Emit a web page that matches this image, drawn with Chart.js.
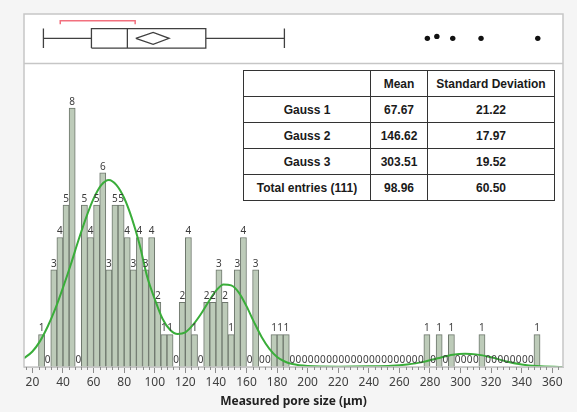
<!DOCTYPE html>
<html>
<head>
<meta charset="utf-8">
<script src="https://cdn.jsdelivr.net/npm/chart.js"></script>
<style>
  html, body { margin:0; padding:0; background:#f5f5f5; }
  #wrap { position:relative; width:577px; height:412px; }
  #stats { position:absolute; left:243px; top:70px; border-collapse:collapse; background:#fff;
           font:bold 12px "Liberation Sans", Arial, sans-serif; color:#1a1a1a; border:1.5px solid #222; }
  #stats td { border:1px solid #333; text-align:center; padding:0; height:25px; }
</style>
</head>
<body>
<div id="wrap">
  <canvas id="poreChart"></canvas>
  <table id="stats"><colgroup><col style="width:127px"><col style="width:57px"><col style="width:127px"></colgroup><tbody></tbody></table>
</div>
<script>
// histogram: bin centres (bin width 4) and counts
var binCenters = [26,30,34,38,42,46,50,54,58,62,66,70,74,78,82,86,90,94,98,102,106,110,114,118,122,126,130,134,138,142,146,150,154,158,162,166,170,174,178,182,186,
  190,194,198,202,206,210,214,218,222,226,230,234,238,242,246,250,254,258,262,266,270,274,278,282,286,290,294,298,302,306,310,314,318,322,326,330,334,338,342,346,350]
var counts = [1,0,3,4,5,8,0,5,4,5,6,3,5,5,4,3,4,3,4,2,1,1,0,2,4,1,0,2,2,3,2,1,3,4,0,3,0,0,1,1,1,
  0,0,0,0,0,0,0,0,0,0,0,0,0,0,0,0,0,0,0,0,0,0,1,0,1,0,1,0,0,0,0,1,0,0,0,0,0,0,0,0,1]

// fitted gaussian mixture curve
var curveX = [14.5,20,25,30,35,40,45,50,55,60,65,70,75,80,85,90,95,100,105,110,115,120,125,130,135,140,145,150,155,160,165,170,175,180,185,190,200,220,240,255,265,275,285,295,303,310,320,330,340,350,367]
var curveY = [0.27,0.48,0.8,1.25,1.8,2.45,3.15,3.9,4.6,5.2,5.62,5.78,5.62,5.22,4.6,3.8,2.8,2.1,1.5,1.15,1.02,1.07,1.3,1.62,2.0,2.35,2.55,2.52,2.3,1.88,1.38,0.92,0.56,0.31,0.17,0.09,0.03,0.01,0.02,0.04,0.08,0.15,0.27,0.38,0.41,0.39,0.3,0.17,0.08,0.03,0.0]

// box plot: whisker min, Q1, median, Q3, whisker max
var boxStats = [27.2, 58.6, 82.1, 133.4, 184.8]
var meanValue = 98.96
var meanCI = [87.6, 109.4]
var shortestHalf = [38.2, 87.2]
var outliers = [278.3, 284.5, 294.9, 313.4, 350.5]
var outlierJitter = [0.5, 0.54, 0.5, 0.5, 0.5]

// table
var rowNames = ['Gauss 1', 'Gauss 2', 'Gauss 3', 'Total entries (111)']
var means = ['67.67', '146.62', '303.51', '98.96']
var stdDevs = ['21.22', '17.97', '19.52', '60.50']

var tbody = document.querySelector('#stats tbody')
var html = '<tr><td></td><td>Mean</td><td>Standard Deviation</td></tr>'
for (var i = 0; i < rowNames.length; i++) {
  html += '<tr><td>' + rowNames[i] + '</td><td>' + means[i] + '</td><td>' + stdDevs[i] + '</td></tr>'
}
tbody.innerHTML = html

var font = '"Noto Sans", "Open Sans", sans-serif'
var mid = 0.5, boxH = 0.2, diaH = 0.123

var boxLines = [
  {x: boxStats[0], y: mid - boxH}, {x: boxStats[0], y: mid + boxH}, {x: boxStats[0], y: null},
  {x: boxStats[0], y: mid}, {x: boxStats[1], y: mid}, {x: boxStats[1], y: null},
  {x: boxStats[1], y: mid - boxH}, {x: boxStats[3], y: mid - boxH}, {x: boxStats[3], y: mid + boxH}, {x: boxStats[1], y: mid + boxH}, {x: boxStats[1], y: mid - boxH}, {x: boxStats[1], y: null},
  {x: boxStats[2], y: mid - boxH}, {x: boxStats[2], y: mid + boxH}, {x: boxStats[2], y: null},
  {x: boxStats[3], y: mid}, {x: boxStats[4], y: mid}, {x: boxStats[4], y: null},
  {x: boxStats[4], y: mid - boxH}, {x: boxStats[4], y: mid + boxH}
]
var diamond = [
  {x: meanCI[0], y: mid}, {x: meanValue, y: mid + diaH}, {x: meanCI[1], y: mid}, {x: meanValue, y: mid - diaH}, {x: meanCI[0], y: mid}
]
var bracket = [
  {x: shortestHalf[0], y: 0.79}, {x: shortestHalf[0], y: 0.862}, {x: shortestHalf[1], y: 0.862}, {x: shortestHalf[1], y: 0.79}
]

var framePlugin = {
  id: 'frame',
  beforeDraw: function(c) {
    var a = c.chartArea, g = c.ctx
    g.save()
    g.fillStyle = '#ffffff'
    g.fillRect(a.left, a.top, a.right - a.left, a.bottom - a.top)
    g.restore()
  },
  afterDraw: function(c) {
    var a = c.chartArea, g = c.ctx
    g.save()
    g.strokeStyle = '#c6c6c6'
    g.lineWidth = 1.5
    g.strokeRect(a.left, a.top, a.right - a.left, a.bottom - a.top)
    var sep = Math.round(c.scales.y.top) + 0.5
    g.beginPath(); g.moveTo(a.left, sep); g.lineTo(a.right, sep); g.stroke()
    // minor ticks every 4 units
    var xs = c.scales.x
    g.strokeStyle = '#8c8c8c'
    g.lineWidth = 1
    g.beginPath()
    for (var v = 16; v <= 364; v += 4) {
      if (v % 20 === 0) continue
      var px = Math.round(xs.getPixelForValue(v)) + 0.5
      g.moveTo(px, xs.top); g.lineTo(px, xs.top + 3)
    }
    g.stroke()
    g.restore()
  }
}

var labelPlugin = {
  id: 'barLabels',
  afterDatasetsDraw: function(c) {
    var meta = c.getDatasetMeta(1), g = c.ctx
    var base = c.scales.y.getPixelForValue(0)
    g.save()
    g.font = '10px ' + font
    g.fillStyle = '#3c3c3c'
    g.textAlign = 'center'
    g.textBaseline = 'bottom'
    meta.data.forEach(function(bar, i) {
      if (counts[i] > 0) g.fillText(counts[i], bar.x, bar.y - 1)
      else g.fillText('0', bar.x, base - 2)
    })
    g.restore()
  }
}

var chart = new Chart(document.getElementById('poreChart'), {
  type: 'bar',
  data: {
    datasets: [
      {
        type: 'line', order: 0, xAxisID: 'x', yAxisID: 'y',
        data: curveX.map(function(x, i) { return {x: x, y: curveY[i]} }),
        borderColor: '#3aad3a', borderWidth: 2, pointRadius: 0,
        cubicInterpolationMode: 'monotone', fill: false
      },
      {
        type: 'bar', order: 1, xAxisID: 'x', yAxisID: 'y',
        data: binCenters.map(function(x, i) { return {x: x, y: counts[i]} }),
        backgroundColor: '#bdcbb9', borderColor: '#6e776d',
        borderWidth: function(ctx) { return counts[ctx.dataIndex] > 0 ? 1 : 0 },
        barPercentage: 1, categoryPercentage: 1
      },
      {
        type: 'line', order: 0, xAxisID: 'x', yAxisID: 'yb', data: boxLines,
        borderColor: '#404040', borderWidth: 1.3, pointRadius: 0, spanGaps: false, tension: 0
      },
      {
        type: 'line', order: 0, xAxisID: 'x', yAxisID: 'yb', data: diamond,
        borderColor: '#404040', borderWidth: 1.3, pointRadius: 0, tension: 0
      },
      {
        type: 'line', order: 0, xAxisID: 'x', yAxisID: 'yb', data: bracket,
        borderColor: '#f2707e', borderWidth: 1.5, pointRadius: 0, tension: 0
      },
      {
        type: 'scatter', order: 0, xAxisID: 'x', yAxisID: 'yb',
        data: outliers.map(function(x, i) { return {x: x, y: outlierJitter[i]} }),
        backgroundColor: '#111', borderWidth: 0, pointRadius: 2.7, showLine: false
      }
    ]
  },
  options: {
    responsive: true,
    maintainAspectRatio: false,
    animation: false,
    events: [],
    layout: {padding: {left: 24, right: 14, top: 14, bottom: 0}},
    plugins: {legend: {display: false}, tooltip: {enabled: false}},
    scales: {
      x: {
        type: 'linear', min: 14.5, max: 367, offset: false,
        grid: {display: true, drawOnChartArea: false, offset: false, tickLength: 6, tickColor: '#8c8c8c'},
        border: {display: true, color: '#c6c6c6'},
        ticks: {stepSize: 20, includeBounds: false, autoSkip: false, maxRotation: 0, padding: 2,
                color: '#404040', font: {family: font, size: 12}},
        title: {display: true, text: 'Measured pore size (μm)', color: '#222',
                font: {family: font, size: 12, weight: 'bold'}, padding: {top: 0, bottom: 3}},
        afterFit: function(s) { s.height = 45 }
      },
      y: {
        type: 'linear', display: false, min: 0, max: 9.4, position: 'left',
        stack: 'panels', stackWeight: 304.3, weight: 0
      },
      yb: {
        type: 'linear', display: false, min: 0, max: 1, position: 'left',
        stack: 'panels', stackWeight: 48.7, weight: 1
      }
    }
  },
  plugins: [framePlugin, labelPlugin]
})
</script>
</body>
</html>
